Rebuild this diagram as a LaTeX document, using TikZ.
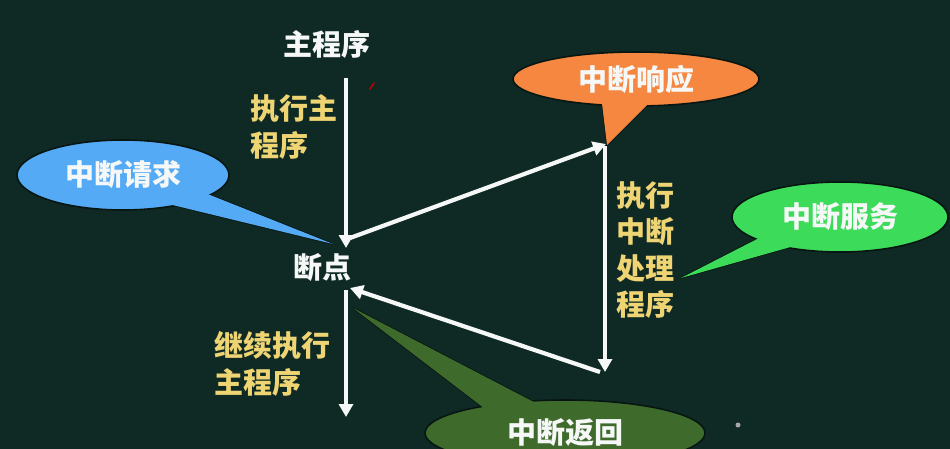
\documentclass[tikz,border=0pt]{standalone}
\usepackage{fontspec}
\newfontfamily\cjk{Noto Sans CJK SC}
\usetikzlibrary{arrows.meta,shapes.geometric}

\definecolor{board}{RGB}{15,42,37}
\definecolor{chalkyellow}{RGB}{238,212,115}
\definecolor{chalkwhite}{RGB}{245,248,246}
\definecolor{bubbleedge}{RGB}{8,22,18}
\definecolor{reqblue}{RGB}{85,170,245}
\definecolor{resporange}{RGB}{245,135,65}
\definecolor{svcgreen}{RGB}{60,220,90}
\definecolor{retgreen}{RGB}{62,107,44}

\tikzset{
  caption/.style={font=\cjk\bfseries\fontsize{29}{36}\selectfont, text=chalkwhite, inner sep=0pt},
  note/.style={font=\cjk\bfseries\fontsize{29}{36.5}\selectfont, text=chalkyellow, inner sep=0pt, align=left, anchor=west},
  bubble/.style={ellipse, draw=bubbleedge, line width=1.6pt, fill=#1, inner sep=0pt,
    font=\cjk\bfseries\fontsize{29}{32}\selectfont, text=chalkwhite},
  tailedge/.style={draw=bubbleedge, line width=1.6pt, fill=#1},
  flow/.style={draw=chalkwhite, line width=4.2pt, -{Triangle[width=14pt,length=13pt]}},
}

\begin{document}
\begin{tikzpicture}[x=1pt,y=-1pt]
\fill[board] (0,0) rectangle (950,449);
\useasboundingbox (0,0) rectangle (950,449);

% ---- speech bubbles (tail outlined, ellipse on top, tail refilled to hide the seam)
% interrupt request
\coordinate (reqA) at (205,193);
\coordinate (reqB) at (170,204.4);
\coordinate (reqTip) at (333,244);
\path[tailedge=reqblue] (reqA) -- (reqTip) -- (reqB) -- cycle;
\node[bubble=reqblue, minimum width=212pt, minimum height=70pt] (req) at (123,175) {中断请求};
\fill[reqblue] (reqA) -- (reqTip) -- (reqB) -- cycle;

% interrupt response
\coordinate (respA) at (601,95);
\coordinate (respB) at (657,95);
\coordinate (respTip) at (607,145);
\path[tailedge=resporange] (respA) -- (respTip) -- (respB) -- cycle;
\node[bubble=resporange, minimum width=246pt, minimum height=54pt] (resp) at (636,79) {中断响应};
\fill[resporange] (respA) -- (respTip) -- (respB) -- cycle;

% interrupt service
\coordinate (svcA) at (765,235);
\coordinate (svcB) at (800,244.3);
\coordinate (svcTip) at (681,278);
\path[tailedge=svcgreen] (svcA) -- (svcTip) -- (svcB) -- cycle;
\node[bubble=svcgreen, minimum width=216pt, minimum height=70pt] (svc) at (840,217) {中断服务};
\fill[svcgreen] (svcA) -- (svcTip) -- (svcB) -- cycle;

% interrupt return
\coordinate (retA) at (495,416.5);
\coordinate (retB) at (545,407.8);
\coordinate (retTip) at (353,308);
\path[tailedge=retgreen] (retA) -- (retTip) -- (retB) -- cycle;
\node[bubble=retgreen, minimum width=280pt, minimum height=66pt] (ret) at (565,433) {中断返回};
\fill[retgreen] (retA) -- (retTip) -- (retB) -- cycle;

% ---- labels
\node[caption] (main) at (327,44) {主程序};
\node[caption] (bp) at (322,268) {断点};
\node[note] (runMain) at (250,127) {执行主\\程序};
\node[note] (runIsr) at (616,250) {执行\\中断\\处理\\程序};
\node[note] (resume) at (214,364) {继续执行\\主程序};

% ---- control flow
\coordinate (mainTop) at (346,78);
\coordinate (bpIn) at (346,248);
\coordinate (bpOut) at (350,238);
\coordinate (isrTop) at (606,144);
\coordinate (isrTop2) at (605,146);
\coordinate (isrEnd) at (605,372);
\coordinate (isrEnd2) at (600,372);
\coordinate (bpBack) at (350,288);
\coordinate (resumeTop) at (346,290);
\coordinate (resumeEnd) at (346,417);

\draw[flow] (mainTop) -- (bpIn);
\draw[flow] (bpOut) -- (isrTop);
\draw[flow] (isrTop2) -- (isrEnd);
\draw[flow] (isrEnd2) -- (bpBack);
\draw[flow] (resumeTop) -- (resumeEnd);

% ---- chalk specks on the board
\draw[red!80!black, line width=1.5pt, line cap=round] (370,89) -- (374,83);
\fill[gray!70] (738,425) circle (2.5pt);
\end{tikzpicture}
\end{document}
